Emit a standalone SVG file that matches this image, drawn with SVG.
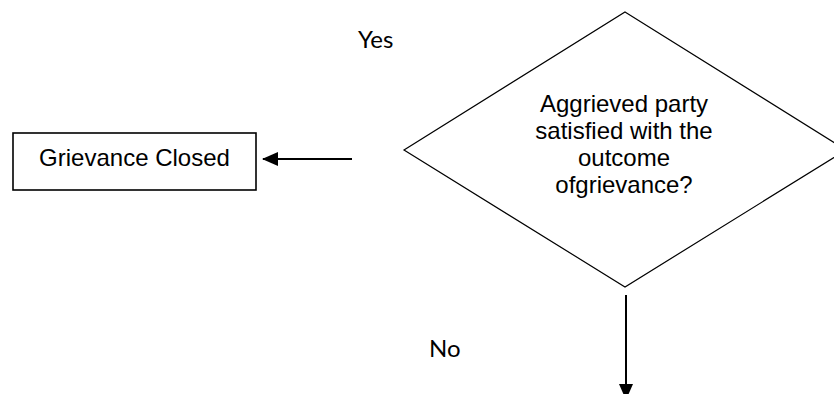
<svg xmlns="http://www.w3.org/2000/svg" width="834" height="394" viewBox="0 0 834 394">
<style>
.t{font-family:"Liberation Sans",Arial,sans-serif;font-size:24px;fill:#000;text-anchor:middle}
.l{font-family:Lato,"Open Sans",sans-serif;font-size:24px;fill:#000}
.shape{fill:#fff;stroke:#000}
.conn{stroke:#000;stroke-width:2;fill:none}
</style>
<defs>
<marker id="ah" markerWidth="8" markerHeight="7" refX="7.5" refY="3.5" orient="auto" markerUnits="strokeWidth">
<path d="M0,0 L8,3.5 L0,7 Z" fill="#000"/>
</marker>
</defs>
<rect width="834" height="394" fill="#fff"/>
<g id="decision">
<polygon class="shape" stroke-width="1.2" points="625,12 846,150 625,287 404,150"/>
<text class="t" x="624" y="112">Aggrieved party</text>
<text class="t" x="624" y="139">satisfied with the</text>
<text class="t" x="624" y="166">outcome</text>
<text class="t" x="624" y="193">ofgrievance?</text>
</g>
<g id="closed">
<rect class="shape" stroke-width="1.6" x="13" y="133" width="243" height="57"/>
<text class="t" x="134.5" y="166">Grievance Closed</text>
</g>
<g id="connectors">
<line class="conn" x1="352" y1="159" x2="263" y2="159" marker-end="url(#ah)"/>
<line class="conn" x1="626" y1="295" x2="626" y2="399" marker-end="url(#ah)"/>
</g>
<g id="labels">
<text class="l" x="358" y="48">Yes</text>
<text class="l" x="429" y="357">No</text>
</g>
</svg>
